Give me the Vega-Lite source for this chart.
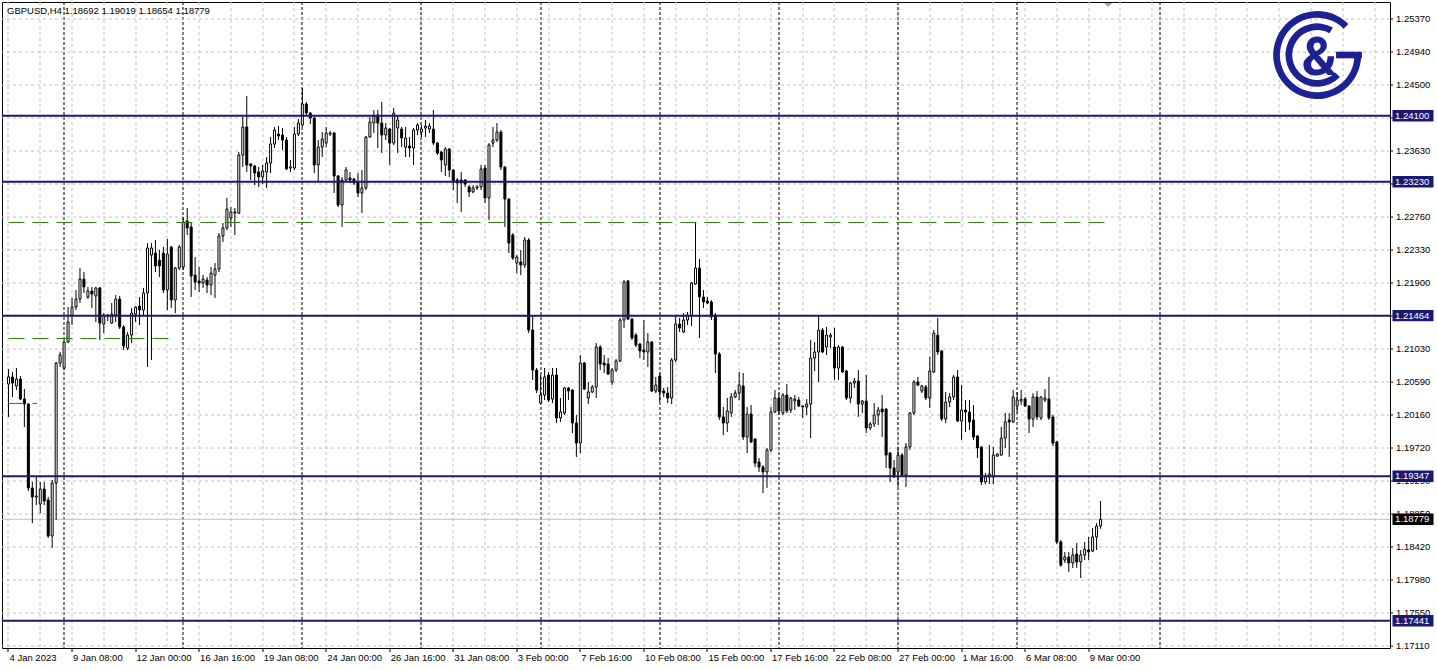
{
"$schema":"https://vega.github.io/schema/vega-lite/v6.json",
"width":1388,"height":646,
"autosize":{"type":"none"},
"padding":{"left":2,"top":2,"right":47,"bottom":22},
"background":"white",
"title":{"text":"GBPUSD,H4 1.18692 1.19019 1.18654 1.18779","anchor":"start","frame":"group","orient":"top","offset":-21,"dx":5,"baseline":"alphabetic","font":"Liberation Sans","fontSize":9.5,"fontWeight":"normal","color":"black"},
"config":{"view":{"stroke":"black","strokeWidth":1},"axis":{"labelFont":"Liberation Sans","labelFontSize":9.5,"labelColor":"black","translate":0}},
"resolve":{"axis":{"x":"independent","y":"independent"}},
"datasets":{
"levels":[{"p":1.241,"label":"1.24100"},{"p":1.2323,"label":"1.23230"},{"p":1.21464,"label":"1.21464"},{"p":1.19347,"label":"1.19347"},{"p":1.17441,"label":"1.17441"}],
"bid":[{"p":1.18779,"label":"1.18779"}],
"green":[{"p":1.22692,"s":0,"e":278},{"p":1.21162,"s":0,"e":40.4},{"p":1.20306,"s":0,"e":7.2}],
"candles":[
{"i":0,"o":1.20562,"h":1.20760,"l":1.20128,"c":1.20655},
{"i":1,"o":1.20655,"h":1.20721,"l":1.20391,"c":1.20575},
{"i":2,"o":1.20536,"h":1.20774,"l":1.20483,"c":1.20628},
{"i":3,"o":1.20628,"h":1.20668,"l":1.20351,"c":1.20364},
{"i":4,"o":1.20364,"h":1.20496,"l":1.19996,"c":1.20298},
{"i":5,"o":1.20298,"h":1.20311,"l":1.19152,"c":1.19192},
{"i":6,"o":1.19192,"h":1.19271,"l":1.18729,"c":1.19073},
{"i":7,"o":1.19073,"h":1.19337,"l":1.18967,"c":1.19086},
{"i":8,"o":1.18980,"h":1.19271,"l":1.18861,"c":1.19178},
{"i":9,"o":1.19178,"h":1.19271,"l":1.18967,"c":1.19020},
{"i":10,"o":1.19033,"h":1.19073,"l":1.18533,"c":1.18559},
{"i":11,"o":1.18559,"h":1.19297,"l":1.18401,"c":1.19257},
{"i":12,"o":1.19257,"h":1.20853,"l":1.18769,"c":1.20839},
{"i":13,"o":1.20839,"h":1.20985,"l":1.20787,"c":1.20945},
{"i":14,"o":1.20774,"h":1.21142,"l":1.20747,"c":1.21116},
{"i":15,"o":1.21116,"h":1.21578,"l":1.21102,"c":1.21380},
{"i":16,"o":1.21459,"h":1.21697,"l":1.21340,"c":1.21578},
{"i":17,"o":1.21578,"h":1.21802,"l":1.21538,"c":1.21683},
{"i":18,"o":1.21683,"h":1.22092,"l":1.21630,"c":1.21946},
{"i":19,"o":1.21946,"h":1.22039,"l":1.21762,"c":1.21842},
{"i":20,"o":1.21710,"h":1.21842,"l":1.21683,"c":1.21789},
{"i":21,"o":1.21789,"h":1.21842,"l":1.21565,"c":1.21749},
{"i":22,"o":1.21723,"h":1.21842,"l":1.21380,"c":1.21829},
{"i":23,"o":1.21829,"h":1.21842,"l":1.21142,"c":1.21366},
{"i":24,"o":1.21353,"h":1.21498,"l":1.21234,"c":1.21472},
{"i":25,"o":1.21472,"h":1.21485,"l":1.21393,"c":1.21459},
{"i":26,"o":1.21366,"h":1.21630,"l":1.21353,"c":1.21485},
{"i":27,"o":1.21472,"h":1.21736,"l":1.21380,"c":1.21683},
{"i":28,"o":1.21683,"h":1.21723,"l":1.21287,"c":1.21314},
{"i":29,"o":1.21314,"h":1.21340,"l":1.21011,"c":1.21063},
{"i":30,"o":1.21037,"h":1.21248,"l":1.21011,"c":1.21208},
{"i":31,"o":1.21208,"h":1.21565,"l":1.21102,"c":1.21498},
{"i":32,"o":1.21485,"h":1.21591,"l":1.21380,"c":1.21578},
{"i":33,"o":1.21591,"h":1.21710,"l":1.21340,"c":1.21538},
{"i":34,"o":1.21538,"h":1.21829,"l":1.21472,"c":1.21762},
{"i":35,"o":1.21762,"h":1.22421,"l":1.20787,"c":1.22356},
{"i":36,"o":1.22263,"h":1.22421,"l":1.20879,"c":1.22356},
{"i":37,"o":1.22289,"h":1.22461,"l":1.22039,"c":1.22118},
{"i":38,"o":1.22197,"h":1.22329,"l":1.21973,"c":1.22118},
{"i":39,"o":1.22289,"h":1.22369,"l":1.21762,"c":1.21802},
{"i":40,"o":1.21802,"h":1.22474,"l":1.21538,"c":1.22276},
{"i":41,"o":1.22369,"h":1.22382,"l":1.21565,"c":1.21670},
{"i":42,"o":1.21670,"h":1.22105,"l":1.21498,"c":1.22092},
{"i":43,"o":1.22092,"h":1.22395,"l":1.22065,"c":1.22369},
{"i":44,"o":1.22105,"h":1.22764,"l":1.22065,"c":1.22699},
{"i":45,"o":1.22712,"h":1.22883,"l":1.22527,"c":1.22620},
{"i":46,"o":1.22633,"h":1.22685,"l":1.21710,"c":1.21986},
{"i":47,"o":1.21999,"h":1.22237,"l":1.21802,"c":1.21908},
{"i":48,"o":1.21921,"h":1.22105,"l":1.21776,"c":1.21894},
{"i":49,"o":1.21894,"h":1.21999,"l":1.21829,"c":1.21946},
{"i":50,"o":1.21934,"h":1.21973,"l":1.21762,"c":1.21868},
{"i":51,"o":1.21868,"h":1.22105,"l":1.21736,"c":1.22025},
{"i":52,"o":1.21999,"h":1.22157,"l":1.21697,"c":1.22078},
{"i":53,"o":1.22078,"h":1.22553,"l":1.22039,"c":1.22514},
{"i":54,"o":1.22514,"h":1.22685,"l":1.22435,"c":1.22620},
{"i":55,"o":1.22620,"h":1.23015,"l":1.22593,"c":1.22869},
{"i":56,"o":1.22751,"h":1.22896,"l":1.22633,"c":1.22830},
{"i":57,"o":1.22816,"h":1.22883,"l":1.22527,"c":1.22830},
{"i":58,"o":1.22816,"h":1.23621,"l":1.22803,"c":1.23581},
{"i":59,"o":1.23581,"h":1.24083,"l":1.23424,"c":1.23951},
{"i":60,"o":1.23951,"h":1.24359,"l":1.23358,"c":1.23450},
{"i":61,"o":1.23463,"h":1.23476,"l":1.23252,"c":1.23437},
{"i":62,"o":1.23437,"h":1.23450,"l":1.23186,"c":1.23344},
{"i":63,"o":1.23358,"h":1.23424,"l":1.23160,"c":1.23292},
{"i":64,"o":1.23292,"h":1.23450,"l":1.23199,"c":1.23371},
{"i":65,"o":1.23358,"h":1.23555,"l":1.23147,"c":1.23476},
{"i":66,"o":1.23476,"h":1.23819,"l":1.23344,"c":1.23726},
{"i":67,"o":1.23726,"h":1.23951,"l":1.23674,"c":1.23911},
{"i":68,"o":1.23858,"h":1.23964,"l":1.23779,"c":1.23832},
{"i":69,"o":1.23845,"h":1.23937,"l":1.23647,"c":1.23779},
{"i":70,"o":1.23779,"h":1.23819,"l":1.23384,"c":1.23397},
{"i":71,"o":1.23410,"h":1.23516,"l":1.23358,"c":1.23424},
{"i":72,"o":1.23410,"h":1.23951,"l":1.23384,"c":1.23858},
{"i":73,"o":1.23858,"h":1.24056,"l":1.23832,"c":1.24003},
{"i":74,"o":1.23977,"h":1.24465,"l":1.23951,"c":1.24254},
{"i":75,"o":1.24254,"h":1.24281,"l":1.24109,"c":1.24135},
{"i":76,"o":1.24135,"h":1.24149,"l":1.23990,"c":1.24069},
{"i":77,"o":1.24069,"h":1.24083,"l":1.23344,"c":1.23450},
{"i":78,"o":1.23450,"h":1.23779,"l":1.23226,"c":1.23686},
{"i":79,"o":1.23686,"h":1.23885,"l":1.23555,"c":1.23792},
{"i":80,"o":1.23739,"h":1.23951,"l":1.23686,"c":1.23871},
{"i":81,"o":1.23858,"h":1.23898,"l":1.23832,"c":1.23871},
{"i":82,"o":1.23871,"h":1.23885,"l":1.23080,"c":1.23305},
{"i":83,"o":1.23305,"h":1.23318,"l":1.22896,"c":1.22922},
{"i":84,"o":1.22922,"h":1.23292,"l":1.22633,"c":1.23252},
{"i":85,"o":1.23252,"h":1.23424,"l":1.23226,"c":1.23384},
{"i":86,"o":1.23279,"h":1.23358,"l":1.23213,"c":1.23252},
{"i":87,"o":1.23265,"h":1.23279,"l":1.23186,"c":1.23213},
{"i":88,"o":1.23226,"h":1.23344,"l":1.23028,"c":1.23080},
{"i":89,"o":1.23080,"h":1.23384,"l":1.22816,"c":1.23147},
{"i":90,"o":1.23147,"h":1.23832,"l":1.23120,"c":1.23819},
{"i":91,"o":1.23819,"h":1.24083,"l":1.23806,"c":1.24017},
{"i":92,"o":1.24003,"h":1.24175,"l":1.23871,"c":1.24096},
{"i":93,"o":1.24109,"h":1.24175,"l":1.23674,"c":1.24003},
{"i":94,"o":1.24003,"h":1.24281,"l":1.23607,"c":1.23845},
{"i":95,"o":1.23845,"h":1.24003,"l":1.23779,"c":1.23937},
{"i":96,"o":1.23924,"h":1.23937,"l":1.23450,"c":1.23739},
{"i":97,"o":1.23739,"h":1.24202,"l":1.23713,"c":1.24135},
{"i":98,"o":1.23937,"h":1.24109,"l":1.23607,"c":1.24043},
{"i":99,"o":1.23924,"h":1.23951,"l":1.23686,"c":1.23806},
{"i":100,"o":1.23686,"h":1.23951,"l":1.23555,"c":1.23806},
{"i":101,"o":1.23700,"h":1.23819,"l":1.23555,"c":1.23674},
{"i":102,"o":1.23674,"h":1.23937,"l":1.23450,"c":1.23911},
{"i":103,"o":1.23911,"h":1.24003,"l":1.23845,"c":1.23977},
{"i":104,"o":1.23885,"h":1.23977,"l":1.23819,"c":1.23924},
{"i":105,"o":1.23937,"h":1.24043,"l":1.23819,"c":1.23964},
{"i":106,"o":1.23924,"h":1.24003,"l":1.23871,"c":1.23964},
{"i":107,"o":1.23924,"h":1.24175,"l":1.23713,"c":1.23739},
{"i":108,"o":1.23739,"h":1.23753,"l":1.23581,"c":1.23607},
{"i":109,"o":1.23621,"h":1.23634,"l":1.23358,"c":1.23516},
{"i":110,"o":1.23450,"h":1.23686,"l":1.23305,"c":1.23660},
{"i":111,"o":1.23660,"h":1.23674,"l":1.23292,"c":1.23384},
{"i":112,"o":1.23384,"h":1.23397,"l":1.23120,"c":1.23226},
{"i":113,"o":1.23252,"h":1.23279,"l":1.22948,"c":1.23213},
{"i":114,"o":1.23252,"h":1.23358,"l":1.22830,"c":1.23213},
{"i":115,"o":1.23252,"h":1.23265,"l":1.23160,"c":1.23199},
{"i":116,"o":1.23160,"h":1.23186,"l":1.23028,"c":1.23094},
{"i":117,"o":1.23094,"h":1.23186,"l":1.23080,"c":1.23147},
{"i":118,"o":1.23147,"h":1.23186,"l":1.23120,"c":1.23160},
{"i":119,"o":1.23160,"h":1.23450,"l":1.23120,"c":1.23397},
{"i":120,"o":1.23410,"h":1.23450,"l":1.22948,"c":1.23015},
{"i":121,"o":1.23015,"h":1.23739,"l":1.22725,"c":1.23713},
{"i":122,"o":1.23739,"h":1.23951,"l":1.23686,"c":1.23779},
{"i":123,"o":1.23779,"h":1.24003,"l":1.23753,"c":1.23885},
{"i":124,"o":1.23885,"h":1.23911,"l":1.23384,"c":1.23424},
{"i":125,"o":1.23424,"h":1.23430,"l":1.22633,"c":1.23001},
{"i":126,"o":1.23001,"h":1.23010,"l":1.22289,"c":1.22421},
{"i":127,"o":1.22527,"h":1.22553,"l":1.22197,"c":1.22224},
{"i":128,"o":1.22157,"h":1.22263,"l":1.22025,"c":1.22237},
{"i":129,"o":1.22171,"h":1.22329,"l":1.21999,"c":1.22131},
{"i":130,"o":1.22131,"h":1.22501,"l":1.22092,"c":1.22461},
{"i":131,"o":1.22461,"h":1.22487,"l":1.21234,"c":1.21274},
{"i":132,"o":1.21274,"h":1.21472,"l":1.20615,"c":1.20747},
{"i":133,"o":1.20747,"h":1.20774,"l":1.20443,"c":1.20483},
{"i":134,"o":1.20311,"h":1.20681,"l":1.20298,"c":1.20417},
{"i":135,"o":1.20417,"h":1.20774,"l":1.20351,"c":1.20655},
{"i":136,"o":1.20681,"h":1.20721,"l":1.20325,"c":1.20351},
{"i":137,"o":1.20364,"h":1.20774,"l":1.20311,"c":1.20681},
{"i":138,"o":1.20681,"h":1.20774,"l":1.20048,"c":1.20115},
{"i":139,"o":1.20115,"h":1.20378,"l":1.20062,"c":1.20194},
{"i":140,"o":1.20180,"h":1.20523,"l":1.20154,"c":1.20510},
{"i":141,"o":1.20510,"h":1.20523,"l":1.20351,"c":1.20470},
{"i":142,"o":1.20483,"h":1.20496,"l":1.19916,"c":1.20048},
{"i":143,"o":1.20048,"h":1.20154,"l":1.19600,"c":1.19784},
{"i":144,"o":1.19784,"h":1.20945,"l":1.19652,"c":1.20839},
{"i":145,"o":1.20839,"h":1.20853,"l":1.20483,"c":1.20496},
{"i":146,"o":1.20378,"h":1.20589,"l":1.20298,"c":1.20457},
{"i":147,"o":1.20457,"h":1.20549,"l":1.20443,"c":1.20523},
{"i":148,"o":1.20523,"h":1.21102,"l":1.20378,"c":1.21050},
{"i":149,"o":1.21050,"h":1.21076,"l":1.20747,"c":1.20826},
{"i":150,"o":1.20839,"h":1.20945,"l":1.20708,"c":1.20813},
{"i":151,"o":1.20826,"h":1.20905,"l":1.20681,"c":1.20694},
{"i":152,"o":1.20589,"h":1.20774,"l":1.20549,"c":1.20747},
{"i":153,"o":1.20747,"h":1.20892,"l":1.20721,"c":1.20866},
{"i":154,"o":1.20866,"h":1.21433,"l":1.20853,"c":1.21406},
{"i":155,"o":1.21406,"h":1.21934,"l":1.21301,"c":1.21908},
{"i":156,"o":1.21921,"h":1.21934,"l":1.21406,"c":1.21419},
{"i":157,"o":1.21419,"h":1.21433,"l":1.21142,"c":1.21169},
{"i":158,"o":1.21208,"h":1.21234,"l":1.21050,"c":1.21076},
{"i":159,"o":1.21089,"h":1.21102,"l":1.20905,"c":1.20998},
{"i":160,"o":1.21011,"h":1.21406,"l":1.20879,"c":1.20985},
{"i":161,"o":1.20985,"h":1.21234,"l":1.20787,"c":1.21116},
{"i":162,"o":1.21116,"h":1.21129,"l":1.20457,"c":1.20470},
{"i":163,"o":1.20470,"h":1.20655,"l":1.20443,"c":1.20549},
{"i":164,"o":1.20668,"h":1.20708,"l":1.20325,"c":1.20457},
{"i":165,"o":1.20470,"h":1.20510,"l":1.20391,"c":1.20443},
{"i":166,"o":1.20443,"h":1.20523,"l":1.20311,"c":1.20378},
{"i":167,"o":1.20378,"h":1.20905,"l":1.20298,"c":1.20879},
{"i":168,"o":1.20879,"h":1.21472,"l":1.20853,"c":1.21353},
{"i":169,"o":1.21353,"h":1.21433,"l":1.21248,"c":1.21301},
{"i":170,"o":1.21248,"h":1.21498,"l":1.21234,"c":1.21406},
{"i":171,"o":1.21406,"h":1.21512,"l":1.21340,"c":1.21472},
{"i":172,"o":1.21459,"h":1.21908,"l":1.21327,"c":1.21894},
{"i":173,"o":1.21881,"h":1.22699,"l":1.21868,"c":1.22092},
{"i":174,"o":1.22092,"h":1.22210,"l":1.21169,"c":1.21710},
{"i":175,"o":1.21710,"h":1.21802,"l":1.21565,"c":1.21644},
{"i":176,"o":1.21657,"h":1.21710,"l":1.21617,"c":1.21630},
{"i":177,"o":1.21644,"h":1.21670,"l":1.21406,"c":1.21446},
{"i":178,"o":1.21472,"h":1.21498,"l":1.20708,"c":1.20958},
{"i":179,"o":1.20958,"h":1.20985,"l":1.20088,"c":1.20128},
{"i":180,"o":1.20128,"h":1.20259,"l":1.19890,"c":1.20048},
{"i":181,"o":1.20048,"h":1.20378,"l":1.19930,"c":1.20207},
{"i":182,"o":1.20180,"h":1.20443,"l":1.20128,"c":1.20391},
{"i":183,"o":1.20391,"h":1.20483,"l":1.20378,"c":1.20443},
{"i":184,"o":1.20443,"h":1.20721,"l":1.20351,"c":1.20549},
{"i":185,"o":1.20536,"h":1.20708,"l":1.19824,"c":1.19864},
{"i":186,"o":1.19864,"h":1.20259,"l":1.19652,"c":1.20167},
{"i":187,"o":1.20167,"h":1.20285,"l":1.19784,"c":1.19798},
{"i":188,"o":1.19837,"h":1.19850,"l":1.19468,"c":1.19520},
{"i":189,"o":1.19534,"h":1.19587,"l":1.19403,"c":1.19468},
{"i":190,"o":1.19468,"h":1.19494,"l":1.19125,"c":1.19403},
{"i":191,"o":1.19403,"h":1.19719,"l":1.19192,"c":1.19692},
{"i":192,"o":1.19692,"h":1.20259,"l":1.19666,"c":1.20194},
{"i":193,"o":1.20194,"h":1.20483,"l":1.20180,"c":1.20378},
{"i":194,"o":1.20378,"h":1.20443,"l":1.20154,"c":1.20207},
{"i":195,"o":1.20180,"h":1.20443,"l":1.20154,"c":1.20417},
{"i":196,"o":1.20417,"h":1.20562,"l":1.20180,"c":1.20207},
{"i":197,"o":1.20220,"h":1.20391,"l":1.20180,"c":1.20378},
{"i":198,"o":1.20338,"h":1.20417,"l":1.20220,"c":1.20364},
{"i":199,"o":1.20351,"h":1.20391,"l":1.20259,"c":1.20272},
{"i":200,"o":1.20272,"h":1.20285,"l":1.20115,"c":1.20259},
{"i":201,"o":1.20259,"h":1.20364,"l":1.20154,"c":1.20298},
{"i":202,"o":1.20298,"h":1.21142,"l":1.19850,"c":1.20905},
{"i":203,"o":1.20905,"h":1.21116,"l":1.20734,"c":1.20985},
{"i":204,"o":1.20985,"h":1.21472,"l":1.20589,"c":1.21274},
{"i":205,"o":1.21274,"h":1.21301,"l":1.20971,"c":1.20985},
{"i":206,"o":1.21050,"h":1.21314,"l":1.20945,"c":1.21208},
{"i":207,"o":1.21182,"h":1.21234,"l":1.21037,"c":1.21208},
{"i":208,"o":1.21050,"h":1.21301,"l":1.20615,"c":1.20774},
{"i":209,"o":1.20774,"h":1.21076,"l":1.20615,"c":1.21050},
{"i":210,"o":1.21050,"h":1.21063,"l":1.20708,"c":1.20721},
{"i":211,"o":1.20734,"h":1.20747,"l":1.20351,"c":1.20378},
{"i":212,"o":1.20378,"h":1.20589,"l":1.20311,"c":1.20575},
{"i":213,"o":1.20575,"h":1.20641,"l":1.20510,"c":1.20602},
{"i":214,"o":1.20602,"h":1.20747,"l":1.20128,"c":1.20298},
{"i":215,"o":1.20298,"h":1.20351,"l":1.20180,"c":1.20338},
{"i":216,"o":1.20338,"h":1.20681,"l":1.19916,"c":1.19983},
{"i":217,"o":1.19983,"h":1.20062,"l":1.19956,"c":1.20035},
{"i":218,"o":1.20035,"h":1.20311,"l":1.19996,"c":1.20154},
{"i":219,"o":1.20154,"h":1.20259,"l":1.20022,"c":1.20220},
{"i":220,"o":1.20233,"h":1.20417,"l":1.19864,"c":1.20194},
{"i":221,"o":1.20233,"h":1.20246,"l":1.19455,"c":1.19626},
{"i":222,"o":1.19652,"h":1.19666,"l":1.19271,"c":1.19455},
{"i":223,"o":1.19455,"h":1.19560,"l":1.19324,"c":1.19337},
{"i":224,"o":1.19403,"h":1.19732,"l":1.19205,"c":1.19626},
{"i":225,"o":1.19626,"h":1.19652,"l":1.19337,"c":1.19363},
{"i":226,"o":1.19363,"h":1.19784,"l":1.19205,"c":1.19732},
{"i":227,"o":1.19732,"h":1.20194,"l":1.19692,"c":1.20180},
{"i":228,"o":1.20180,"h":1.20615,"l":1.20154,"c":1.20589},
{"i":229,"o":1.20589,"h":1.20655,"l":1.20536,"c":1.20549},
{"i":230,"o":1.20470,"h":1.20549,"l":1.20443,"c":1.20536},
{"i":231,"o":1.20523,"h":1.20549,"l":1.20351,"c":1.20378},
{"i":232,"o":1.20378,"h":1.20919,"l":1.20246,"c":1.20734},
{"i":233,"o":1.20721,"h":1.21274,"l":1.20708,"c":1.21234},
{"i":234,"o":1.21208,"h":1.21433,"l":1.20945,"c":1.20985},
{"i":235,"o":1.20998,"h":1.21011,"l":1.20075,"c":1.20101},
{"i":236,"o":1.20101,"h":1.20457,"l":1.20048,"c":1.20325},
{"i":237,"o":1.20325,"h":1.20443,"l":1.20259,"c":1.20391},
{"i":238,"o":1.20391,"h":1.20681,"l":1.20351,"c":1.20655},
{"i":239,"o":1.20655,"h":1.20747,"l":1.20062,"c":1.20075},
{"i":240,"o":1.20075,"h":1.20549,"l":1.19824,"c":1.20220},
{"i":241,"o":1.20220,"h":1.20351,"l":1.19930,"c":1.20194},
{"i":242,"o":1.20194,"h":1.20351,"l":1.19956,"c":1.20062},
{"i":243,"o":1.20088,"h":1.20285,"l":1.19824,"c":1.19864},
{"i":244,"o":1.19877,"h":1.19890,"l":1.19587,"c":1.19719},
{"i":245,"o":1.19732,"h":1.19745,"l":1.19231,"c":1.19271},
{"i":246,"o":1.19271,"h":1.19389,"l":1.19244,"c":1.19350},
{"i":247,"o":1.19337,"h":1.19758,"l":1.19244,"c":1.19376},
{"i":248,"o":1.19337,"h":1.19732,"l":1.19244,"c":1.19626},
{"i":249,"o":1.19613,"h":1.19652,"l":1.19600,"c":1.19639},
{"i":250,"o":1.19626,"h":1.19996,"l":1.19613,"c":1.19850},
{"i":251,"o":1.19850,"h":1.20180,"l":1.19719,"c":1.20062},
{"i":252,"o":1.20088,"h":1.20180,"l":1.19600,"c":1.20062},
{"i":253,"o":1.20062,"h":1.20483,"l":1.20048,"c":1.20391},
{"i":254,"o":1.20272,"h":1.20457,"l":1.20180,"c":1.20351},
{"i":255,"o":1.20338,"h":1.20483,"l":1.20285,"c":1.20364},
{"i":256,"o":1.20364,"h":1.20391,"l":1.20259,"c":1.20272},
{"i":257,"o":1.20272,"h":1.20285,"l":1.19916,"c":1.20101},
{"i":258,"o":1.20101,"h":1.20443,"l":1.19996,"c":1.20391},
{"i":259,"o":1.20391,"h":1.20470,"l":1.20088,"c":1.20128},
{"i":260,"o":1.20115,"h":1.20400,"l":1.20088,"c":1.20391},
{"i":261,"o":1.20351,"h":1.20496,"l":1.20325,"c":1.20378},
{"i":262,"o":1.20364,"h":1.20655,"l":1.20088,"c":1.20115},
{"i":263,"o":1.20128,"h":1.20154,"l":1.19745,"c":1.19784},
{"i":264,"o":1.19798,"h":1.19811,"l":1.18453,"c":1.18480},
{"i":265,"o":1.18480,"h":1.18506,"l":1.18150,"c":1.18176},
{"i":266,"o":1.18242,"h":1.18348,"l":1.18202,"c":1.18282},
{"i":267,"o":1.18282,"h":1.18348,"l":1.18084,"c":1.18202},
{"i":268,"o":1.18202,"h":1.18401,"l":1.18137,"c":1.18308},
{"i":269,"o":1.18321,"h":1.18466,"l":1.18137,"c":1.18216},
{"i":270,"o":1.18216,"h":1.18374,"l":1.18005,"c":1.18308},
{"i":271,"o":1.18308,"h":1.18480,"l":1.18242,"c":1.18387},
{"i":272,"o":1.18374,"h":1.18546,"l":1.18242,"c":1.18348},
{"i":273,"o":1.18361,"h":1.18664,"l":1.18348,"c":1.18546},
{"i":274,"o":1.18546,"h":1.18729,"l":1.18374,"c":1.18690},
{"i":275,"o":1.18692,"h":1.19019,"l":1.18654,"c":1.18779}
]},
"layer":[
{"data":{"name":"bid"},"mark":{"type":"rule","color":"#c0c0c0","strokeWidth":1},
 "encoding":{"y":{"field":"p","type":"quantitative","scale":{"domain":[1.17082,1.25599],"nice":false,"zero":false},
   "axis":{"orient":"right","values":[1.2537,1.2494,1.245,1.2407,1.2363,1.232,1.2276,1.2233,1.219,1.2146,1.2103,1.2059,1.2016,1.1972,1.1929,1.1885,1.1842,1.1798,1.1755,1.1711],"format":".5f","grid":true,"gridColor":"#c0c0c0","gridDash":[3,3],"gridWidth":1,"domain":false,"ticks":true,"tickSize":3,"tickColor":"black","labelPadding":3,"labelBaseline":"middle","labelOverlap":false,"labelFlush":false,"title":null}}}},
{"data":{"name":"candles"},"mark":{"type":"rule","color":"black","strokeWidth":1},
 "encoding":{
  "x":{"field":"i","type":"quantitative","scale":{"domain":[-0.375,346.625],"nice":false,"zero":false},
   "axis":{"orient":"bottom","values":[0,8,16,24,32,40,48,56,64,72,80,88,96,104,112,120,128,136,144,152,160,168,176,184,192,200,208,216,224,232,240,248,256,264,272,280,288,296,304,312,320,328,336,344],"grid":true,"gridColor":"#c0c0c0","gridDash":[3,3],"gridWidth":1,"labels":false,"ticks":false,"domain":false,"title":null}},
  "y":{"field":"l","type":"quantitative","scale":{"domain":[1.17082,1.25599],"nice":false,"zero":false},"axis":null},
  "y2":{"field":"h"}}},
{"data":{"name":"candles"},"mark":{"type":"bar","size":2,"stroke":"black","strokeWidth":1,"orient":"vertical"},
 "encoding":{
  "x":{"field":"i","type":"quantitative","scale":{"domain":[-0.375,346.625],"nice":false,"zero":false},
   "axis":{"orient":"bottom","values":[14,44,74,104,134,164,194,224,254,290],"grid":true,"gridColor":"black","gridDash":[3,2],"gridWidth":1,"labels":false,"ticks":false,"domain":false,"title":null}},
  "y":{"field":"o","type":"quantitative","scale":{"domain":[1.17082,1.25599],"nice":false,"zero":false},"axis":null},
  "y2":{"field":"c"},
  "fill":{"condition":{"test":"datum.c >= datum.o","value":"white"},"value":"black"}}},
{"data":{"name":"green"},"mark":{"type":"rule","color":"#2a8010","strokeWidth":1,"strokeDash":[16,8]},
 "encoding":{
  "x":{"field":"s","type":"quantitative","scale":{"domain":[-0.375,346.625],"nice":false,"zero":false},
   "axis":{"orient":"bottom","values":[0,16,32,48,64,80,96,112,128,144,160,176,192,208,224,240,256,272],"grid":false,"domain":false,"ticks":true,"tickSize":4,"tickColor":"black","labelExpr":"['4 Jan 2023','9 Jan 08:00','12 Jan 00:00','16 Jan 16:00','19 Jan 08:00','24 Jan 00:00','26 Jan 16:00','31 Jan 08:00','3 Feb 00:00','7 Feb 16:00','10 Feb 08:00','15 Feb 00:00','17 Feb 16:00','22 Feb 08:00','27 Feb 00:00','1 Mar 16:00','6 Mar 08:00','9 Mar 00:00'][round(datum.value/16)]","labelAlign":"left","labelBaseline":"top","labelPadding":1,"labelOffset":1,"labelOverlap":false,"labelFlush":false,"title":null}},
  "x2":{"field":"e"},
  "y":{"field":"p","type":"quantitative","scale":{"domain":[1.17082,1.25599],"nice":false,"zero":false},"axis":null}}},
{"data":{"name":"levels"},"mark":{"type":"rule","color":"#191970","strokeWidth":2},
 "encoding":{"y":{"field":"p","type":"quantitative","scale":{"domain":[1.17082,1.25599],"nice":false,"zero":false},"axis":null}}},
{"data":{"name":"levels"},"mark":{"type":"point","shape":"M-1,-0.28L1,-0.28L1,0.28L-1,0.28Z","size":1681,"filled":true,"fill":"#191970","strokeWidth":0,"opacity":1,"xOffset":23},
 "encoding":{"x":{"value":"width"},"y":{"field":"p","type":"quantitative","scale":{"domain":[1.17082,1.25599],"nice":false,"zero":false},"axis":null}}},
{"data":{"name":"bid"},"mark":{"type":"point","shape":"M-1,-0.28L1,-0.28L1,0.28L-1,0.28Z","size":1681,"filled":true,"fill":"black","strokeWidth":0,"opacity":1,"xOffset":23},
 "encoding":{"x":{"value":"width"},"y":{"field":"p","type":"quantitative","scale":{"domain":[1.17082,1.25599],"nice":false,"zero":false},"axis":null}}},
{"data":{"name":"levels"},"mark":{"type":"text","color":"white","font":"Liberation Sans","fontSize":9.5,"align":"left","baseline":"middle","dx":5},
 "encoding":{"x":{"value":"width"},"y":{"field":"p","type":"quantitative","scale":{"domain":[1.17082,1.25599],"nice":false,"zero":false},"axis":null},"text":{"field":"label"}}},
{"data":{"name":"bid"},"mark":{"type":"text","color":"white","font":"Liberation Sans","fontSize":9.5,"align":"left","baseline":"middle","dx":5},
 "encoding":{"x":{"value":"width"},"y":{"field":"p","type":"quantitative","scale":{"domain":[1.17082,1.25599],"nice":false,"zero":false},"axis":null},"text":{"field":"label"}}},
{"data":{"values":[{}]},"mark":{"type":"arc","fill":"#1e2191"},
 "encoding":{"x":{"datum":329.55,"type":"quantitative","scale":{"domain":[-0.375,346.625],"nice":false,"zero":false},"axis":null},
  "y":{"datum":1.249,"type":"quantitative","scale":{"domain":[1.17082,1.25599],"nice":false,"zero":false},"axis":null},
  "theta":{"value":1.5708},"theta2":{"value":7.07},"radius":{"value":44},"radius2":{"value":37.3}}},
{"data":{"values":[{}]},"mark":{"type":"arc","fill":"#1e2191"},
 "encoding":{"x":{"datum":329.55,"type":"quantitative","scale":{"domain":[-0.375,346.625],"nice":false,"zero":false},"axis":null},
  "y":{"datum":1.249,"type":"quantitative","scale":{"domain":[1.17082,1.25599],"nice":false,"zero":false},"axis":null},
  "theta":{"value":2.34},"theta2":{"value":6.8},"radius":{"value":31.7},"radius2":{"value":25}}},
{"data":{"values":[{}]},"mark":{"type":"rule","color":"#1e2191","strokeWidth":6.6,"strokeCap":"butt"},
 "encoding":{"x":{"datum":334.3,"type":"quantitative","scale":{"domain":[-0.375,346.625],"nice":false,"zero":false},"axis":null},
  "x2":{"datum":340.8},
  "y":{"datum":1.249,"type":"quantitative","scale":{"domain":[1.17082,1.25599],"nice":false,"zero":false},"axis":null}}},
{"data":{"values":[{}]},"mark":{"type":"text","text":"&","font":"Roboto","fontWeight":"bold","fontSize":54,"align":"center","baseline":"alphabetic","color":"#1e2191"},
 "encoding":{"x":{"datum":330.1,"type":"quantitative","scale":{"domain":[-0.375,346.625],"nice":false,"zero":false},"axis":null},
  "y":{"datum":1.24637,"type":"quantitative","scale":{"domain":[1.17082,1.25599],"nice":false,"zero":false},"axis":null}}},
{"data":{"values":[{}]},"mark":{"type":"point","shape":"M-1,-0.5L1,-0.5L0,0.5Z","size":64,"filled":true,"fill":"#a8a8a8","strokeWidth":0,"opacity":1},
 "encoding":{"x":{"datum":276.9,"type":"quantitative","scale":{"domain":[-0.375,346.625],"nice":false,"zero":false},"axis":null},
  "y":{"datum":1.25559,"type":"quantitative","scale":{"domain":[1.17082,1.25599],"nice":false,"zero":false},"axis":null}}}
]
}
